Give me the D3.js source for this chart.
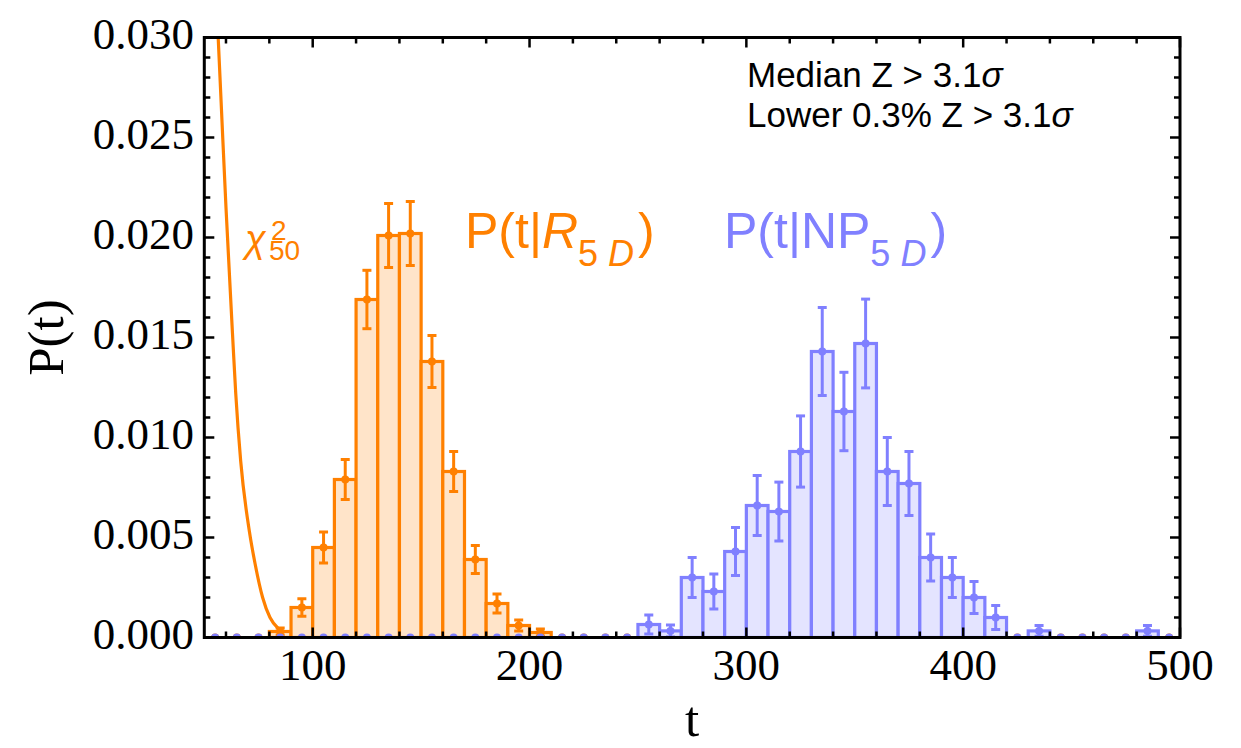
<!DOCTYPE html>
<html>
<head>
<meta charset="utf-8">
<script src="https://cdn.jsdelivr.net/npm/d3@7"></script>
<style>
  html, body { margin: 0; padding: 0; background: #fff; }
  svg { display: block; }
</style>
</head>
<body>
<div id="chart"></div>
<script>
// ---- data ----
const binLo = [50,60,70,80,90,100,110,120,130,140,150,160,170,180,190,200,210,220,230,240,
               250,260,270,280,290,300,310,320,330,340,350,360,370,380,390,400,410,420,430,440,
               450,460,470,480,490];
const binWidth = 10;

// P(t|R_5D) histogram (orange)
const rVals = [0,0,0,0.0003,0.0015,0.0045,0.0079,0.0169,0.0201,0.0202,0.0138,0.0083,0.0039,0.0017,0.0006,0.00025,0,0,0,0,
               0,0,0,0,0,0,0,0,0,0,0,0,0,0,0,0,0,0,0,0,
               0,0,0,0,0];
const rErr  = [0,0,0,0.00017,0.00044,0.00077,0.0010,0.00146,0.0016,0.0016,0.0013,0.0010,0.0007,0.00048,0.00027,0.00017,0,0,0,0,
               0,0,0,0,0,0,0,0,0,0,0,0,0,0,0,0,0,0,0,0,
               0,0,0,0,0];

// P(t|NP_5D) histogram (blue)
const npVals = [0,0,0,0,0,0,0,0,0,0,0,0,0,0,0,0,0,0,0,0,
                0.00065,0.00033,0.0030,0.0023,0.0043,0.0066,0.0063,0.0093,0.0143,0.0113,0.0147,0.0083,0.0077,0.0040,0.0030,0.0020,0.0010,0,0.00033,0,
                0,0,0,0.00033,0];
const npErr  = [0,0,0,0,0,0,0,0,0,0,0,0,0,0,0,0,0,0,0,0,
                0.00047,0.0003,0.0010,0.00088,0.0012,0.0015,0.00147,0.00178,0.0022,0.00196,0.00222,0.0017,0.0016,0.00117,0.0010,0.0008,0.0006,0,0.00027,0,
                0,0,0,0.00027,0];

// chi^2_50 curve, points
const chiT = [56.4, 58, 60, 63, 64.5, 66.8, 70.8, 73.4, 76.9, 80.3, 84.1, 88.7, 95, 100];
const chiP = [0.0300, 0.0262, 0.0215, 0.0152, 0.0122, 0.0088, 0.0053, 0.0037, 0.0020, 0.0010, 0.00045, 0.00018, 0.00005, 0.00002];

// ticks
const xMajor = [100,200,300,400,500];
const xMinor = [60,80,120,140,160,180,220,240,260,280,320,340,360,380,420,440,460,480];
const yMajor = [0,0.005,0.010,0.015,0.020,0.025,0.030];
const yMinor = [0.001,0.002,0.003,0.004,0.006,0.007,0.008,0.009,0.011,0.012,0.013,0.014,
                0.016,0.017,0.018,0.019,0.021,0.022,0.023,0.024,0.026,0.027,0.028,0.029];

// ---- drawing ----
const W = 1241, H = 748;
const L = 204.3, R = 1180, T = 37.5, B = 637.5;
const orange = "#FF8000", orangeFill = "#FFE4C9";
const blue = "#8080FF", blueFill = "#E4E4FF";

const svg = d3.select("#chart").append("svg").attr("width", W).attr("height", H);
const x = d3.scaleLinear().domain([50, 500]).range([L, R]);
const y = d3.scaleLinear().domain([0, 0.03]).range([B, T]);

svg.append("defs").append("clipPath").attr("id", "clip")
  .append("rect").attr("x", L).attr("y", T).attr("width", R - L).attr("height", B - T);

const plot = svg.append("g").attr("clip-path", "url(#clip)");

// chi-square curve
const line = d3.line().x(d => x(d[0])).y(d => y(d[1])).curve(d3.curveMonotoneX);
plot.append("path").datum(chiT.map((t, i) => [t, chiP[i]]))
  .attr("d", line).attr("fill", "none").attr("stroke", orange).attr("stroke-width", 3.2);

function drawHist(vals, errs, stroke, fill) {
  const data = binLo.map((lo, i) => ({lo, v: vals[i], e: errs[i]}));
  const g = plot.append("g");
  g.selectAll("rect").data(data.filter(d => d.v > 0)).join("rect")
    .attr("x", d => x(d.lo)).attr("y", d => y(d.v))
    .attr("width", d => x(d.lo + binWidth) - x(d.lo))
    .attr("height", d => y(0) - y(d.v))
    .attr("fill", fill).attr("stroke", stroke).attr("stroke-width", 3.2);
  return {g, data};
}
function drawErr(h, stroke) {
  const {g, data} = h;
  const nz = data.filter(d => d.v > 0);
  const cx = d => x(d.lo + binWidth / 2);
  g.selectAll("line.eb").data(nz).join("line").attr("class", "eb")
    .attr("x1", cx).attr("x2", cx)
    .attr("y1", d => y(d.v - d.e)).attr("y2", d => y(d.v + d.e))
    .attr("stroke", stroke).attr("stroke-width", 3);
  ["lo", "hi"].forEach(k => {
    g.selectAll("line.cap" + k).data(nz).join("line").attr("class", "cap" + k)
      .attr("x1", d => cx(d) - 4.5).attr("x2", d => cx(d) + 4.5)
      .attr("y1", d => y(k === "lo" ? d.v - d.e : d.v + d.e))
      .attr("y2", d => y(k === "lo" ? d.v - d.e : d.v + d.e))
      .attr("stroke", stroke).attr("stroke-width", 3);
  });
  g.selectAll("circle").data(data).join("circle")
    .attr("cx", cx).attr("cy", d => y(d.v)).attr("r", 4)
    .attr("fill", stroke);
}

const hR = drawHist(rVals, rErr, orange, orangeFill);
drawErr(hR, orange);
const hN = drawHist(npVals, npErr, blue, blueFill);
drawErr(hN, blue);

// ---- frame & ticks ----
const axes = svg.append("g");
function ticksX(g, vals, len, atBottom) {
  g.selectAll(null).data(vals).join("line")
    .attr("x1", d => x(d)).attr("x2", d => x(d))
    .attr("y1", atBottom ? B : T).attr("y2", atBottom ? B - len : T + len)
    .attr("stroke", "#000").attr("stroke-width", 2.5);
}
function ticksY(g, vals, len, atLeft) {
  g.selectAll(null).data(vals).join("line")
    .attr("y1", d => y(d)).attr("y2", d => y(d))
    .attr("x1", atLeft ? L : R).attr("x2", atLeft ? L + len : R - len)
    .attr("stroke", "#000").attr("stroke-width", 2.5);
}
ticksX(axes, xMajor, 10, true); ticksX(axes, xMinor, 6, true);
ticksX(axes, xMajor, 10, false); ticksX(axes, xMinor, 6, false);
ticksY(axes, yMajor, 10, true); ticksY(axes, yMinor, 6, true);
ticksY(axes, yMajor, 10, false); ticksY(axes, yMinor, 6, false);

axes.append("rect").attr("x", L).attr("y", T).attr("width", R - L).attr("height", B - T)
  .attr("fill", "none").attr("stroke", "#000").attr("stroke-width", 3);

const serif = "'Liberation Serif', 'Times New Roman', serif";
const sans = "'Liberation Sans', Arial, Helvetica, sans-serif";

axes.selectAll(null).data(xMajor).join("text")
  .attr("x", d => x(d)).attr("y", 680).attr("text-anchor", "middle")
  .style("font-family", serif).style("font-size", "45px").attr("fill", "#000")
  .text(d3.format("d"));
axes.selectAll(null).data(yMajor).join("text")
  .attr("x", 194).attr("y", d => y(d) + 11.5).attr("text-anchor", "end")
  .style("font-family", serif).style("font-size", "45px").attr("fill", "#000")
  .text(d3.format(".3f"));

// axis titles
svg.append("text").attr("transform", `translate(63,${(T + B) / 2}) rotate(-90)`)
  .attr("text-anchor", "middle").style("font-family", serif).style("font-size", "51px")
  .text("P(t)");
svg.append("text").attr("x", (L + R) / 2).attr("y", 736).attr("text-anchor", "middle")
  .style("font-family", serif).style("font-size", "51px").text("t");

// chi^2_50 label (one text element)
const chi = svg.append("text").attr("x", 245).attr("y", 252)
  .style("font-family", sans).attr("fill", orange);
chi.append("tspan").style("font-size", "38px").style("font-style", "italic").text("χ");
chi.append("tspan").attr("x", 271).attr("dy", -12).style("font-size", "28px").text("2");
chi.append("tspan").attr("x", 269).attr("dy", 20).style("font-size", "28px").text("50");

// distribution labels
function distLabel(x0, color, main, italicMain) {
  const t = svg.append("text").attr("x", x0).attr("y", 248)
    .style("font-family", sans).style("font-size", "50px").attr("fill", color);
  t.append("tspan").text(main);
  if (italicMain) t.append("tspan").style("font-style", "italic").text(italicMain);
  t.append("tspan").attr("dy", 18).style("font-size", "36px").text("5");
  t.append("tspan").attr("dx", 10).style("font-size", "36px").style("font-style", "italic").text("D");
  t.append("tspan").attr("dy", -18).attr("dx", 4).text(")");
}
distLabel(465, orange, "P(t|", "R");
distLabel(724, blue, "P(t|NP", null);

// annotation
const ann = svg.append("g").style("font-family", sans).style("font-size", "35px").attr("fill", "#000");
const a1 = ann.append("text").attr("x", 747).attr("y", 86.7);
a1.append("tspan").text("Median Z > 3.1");
a1.append("tspan").style("font-style", "italic").text("σ");
const a2 = ann.append("text").attr("x", 747).attr("y", 127.3);
a2.append("tspan").text("Lower 0.3% Z > 3.1");
a2.append("tspan").style("font-style", "italic").text("σ");
</script>
</body>
</html>
